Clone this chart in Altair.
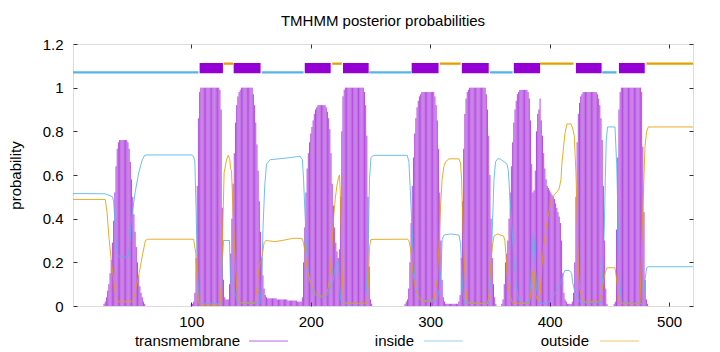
import altair as alt
import pandas as pd

FONT = "Liberation Sans"

# ---------------- data ----------------
series_names = ["transmembrane", "inside", "outside"]
series_colors = ["#9400D3", "#56B4E9", "#E69F00"]
x_ticks = [100, 200, 300, 400, 500]
y_ticks = [0, 0.2, 0.4, 0.6, 0.8, 1.0, 1.2]
seq_length = 520

# transmembrane posterior probability per residue (runs of consecutive residues)
tm_run_starts = [27, 100, 193, 279, 360, 454]
tm_run_values = [
    [0.01, 0.02, 0.04, 0.07, 0.10, 0.15, 0.21, 0.29, 0.39, 0.52, 0.64, 0.72, 0.75,
     0.76, 0.76, 0.76, 0.76, 0.76, 0.76, 0.76, 0.75, 0.72, 0.66, 0.58, 0.50, 0.42,
     0.34, 0.27, 0.20, 0.14, 0.09, 0.06, 0.04, 0.02, 0.01],
    [0.01, 0.01, 0.02, 0.06, 0.22, 0.55, 0.86, 0.98,
     1.0, 1.0, 1.0, 1.0, 1.0, 1.0, 1.0, 1.0, 1.0, 1.0, 1.0, 1.0, 1.0, 1.0, 1.0, 1.0,
     0.99, 0.90, 0.45, 0.12, 0.04, 0.03, 0.03, 0.03, 0.10, 0.24, 0.40, 0.56, 0.70,
     0.84, 0.92, 0.96, 0.98, 0.99,
     1.0, 1.0, 1.0, 1.0, 1.0, 1.0, 1.0, 1.0, 1.0, 1.0,
     0.97, 0.92, 0.84, 0.74, 0.62, 0.48, 0.34, 0.22, 0.14, 0.08, 0.05, 0.04,
     0.035, 0.035, 0.035, 0.035, 0.035, 0.035, 0.035, 0.035,
     0.03, 0.03, 0.03, 0.03, 0.03, 0.03, 0.03, 0.03, 0.03,
     0.025, 0.025, 0.025, 0.025, 0.025, 0.025, 0.025, 0.025,
     0.02, 0.02, 0.02, 0.02],
    [0.04, 0.20, 0.36, 0.52, 0.63, 0.70, 0.75, 0.79, 0.82, 0.85, 0.88, 0.90, 0.91,
     0.92, 0.92, 0.92, 0.92, 0.92, 0.92, 0.92,
     0.91, 0.89, 0.86, 0.81, 0.70, 0.56, 0.46, 0.36, 0.29, 0.25, 0.22, 0.26, 0.50,
     0.80, 0.96, 0.99,
     1.0, 1.0, 1.0, 1.0, 1.0, 1.0, 1.0, 1.0, 1.0, 1.0, 1.0, 1.0, 1.0, 1.0, 1.0, 1.0,
     0.98, 0.92, 0.78, 0.50, 0.18, 0.03, 0.01],
    [0.01, 0.02, 0.03, 0.08, 0.20, 0.38, 0.55, 0.68, 0.79, 0.86, 0.91, 0.94, 0.96,
     0.97, 0.98, 0.98, 0.98, 0.98, 0.98, 0.98, 0.98, 0.98, 0.98, 0.98, 0.98,
     0.96, 0.92, 0.85, 0.72, 0.52, 0.30, 0.12, 0.04, 0.02,
     0.01, 0.01, 0.01, 0.01, 0.01, 0.01, 0.01, 0.01, 0.01, 0.01, 0.01,
     0.02, 0.05, 0.22, 0.48, 0.72, 0.88, 0.95, 0.98, 0.99,
     1.0, 1.0, 1.0, 1.0, 1.0, 1.0, 1.0, 1.0, 1.0, 1.0, 1.0, 1.0, 1.0, 1.0,
     0.97, 0.90, 0.78, 0.60, 0.40, 0.22, 0.10, 0.04, 0.01],
    [0.01, 0.03, 0.10, 0.20, 0.24, 0.30, 0.40, 0.52, 0.64, 0.75, 0.84, 0.90, 0.94,
     0.97, 0.98, 0.99, 0.99, 0.99, 0.99, 0.99, 0.99, 0.99, 0.98, 0.95, 0.85, 0.65,
     0.52, 0.53, 0.62, 0.80, 0.88, 0.90, 0.95, 0.85, 0.78, 0.70, 0.63, 0.58, 0.55,
     0.54, 0.53, 0.52, 0.51, 0.50, 0.49, 0.47, 0.45, 0.43, 0.41, 0.38, 0.30, 0.15,
     0.06, 0.03, 0.02, 0.01, 0.01, 0.01, 0.01, 0.02, 0.06, 0.20, 0.50, 0.75, 0.88,
     0.93, 0.96, 0.97, 0.98, 0.98, 0.98, 0.98, 0.98, 0.98, 0.98, 0.98, 0.98, 0.98,
     0.98, 0.98, 0.97, 0.95, 0.92, 0.86, 0.76, 0.55, 0.30, 0.08, 0.01],
    [0.01, 0.02, 0.35, 0.68, 0.90, 0.98,
     1.0, 1.0, 1.0, 1.0, 1.0, 1.0, 1.0, 1.0, 1.0, 1.0, 1.0, 1.0, 1.0, 1.0, 1.0, 1.0, 1.0,
     0.98, 0.73, 0.43, 0.12, 0.03, 0.01],
]

# inside probability (breakpoints)
inside_pos = [1, 28, 32, 34, 35, 36, 37, 38, 40, 47, 48, 50, 53, 56, 59, 61, 63, 100,
              102, 103, 104, 105, 106, 107, 125, 126, 127, 132, 132.8, 134.5, 136.5, 139,
              157.5, 159, 160, 161.5, 163, 166, 175, 183, 191, 193, 194, 195.4, 196.8,
              198, 199.5, 202, 205, 211, 213.5, 216, 219, 220.5, 221.5, 223.3, 224, 225,
              227, 245.5, 247, 248.4, 249.2, 250.4, 252.6, 280.8, 282.2, 283.6, 285,
              286.4, 287.7, 290.5, 293.3, 303, 305.9, 308.1, 309.2, 310, 311.5, 317, 324,
              325.4, 326.3, 327.4, 328.8, 349, 350.6, 352, 353.4, 354.7, 356.7, 359, 362,
              364.2, 365.3, 366.2, 367.6, 369, 370.4, 371.8, 373.2, 374.6, 377, 382,
              383.8, 385.2, 386.3, 387.1, 388, 389.4, 390.7, 398, 401, 404, 406.7, 409.5,
              411.7, 412.8, 416.4, 418.4, 419.2, 420.6, 422, 423.4, 424.8, 427, 443,
              444.3, 445.7, 446.6, 447.4, 448.5, 454.7, 456.1, 457.5, 458.9, 460.2, 478.4,
              479.8, 481.2, 483, 520]
inside_val = [0.515, 0.514, 0.505, 0.50, 0.48, 0.40, 0.30, 0.24, 0.224, 0.224, 0.26, 0.40,
              0.52, 0.61, 0.67, 0.69, 0.692, 0.692, 0.685, 0.66, 0.45, 0.20, 0.05, 0.01,
              0.01, 0.20, 0.30, 0.30, 0.12, 0.11, 0.06, 0.015, 0.01, 0.12, 0.35, 0.55,
              0.65, 0.67, 0.675, 0.68, 0.686, 0.67, 0.58, 0.40, 0.24, 0.15, 0.11, 0.06,
              0.043, 0.04, 0.046, 0.076, 0.12, 0.18, 0.20, 0.20, 0.12, 0.03, 0.01, 0.01,
              0.12, 0.35, 0.58, 0.68, 0.69, 0.69, 0.66, 0.50, 0.32, 0.18, 0.09, 0.04,
              0.023, 0.02, 0.03, 0.09, 0.18, 0.305, 0.325, 0.33, 0.325, 0.29, 0.18, 0.06,
              0.015, 0.01, 0.12, 0.35, 0.58, 0.66, 0.675, 0.672, 0.66, 0.65, 0.625, 0.55,
              0.43, 0.305, 0.20, 0.11, 0.046, 0.023, 0.015, 0.015, 0.06, 0.24, 0.33, 0.29,
              0.18, 0.06, 0.015, 0.01, 0.03, 0.053, 0.076, 0.11, 0.15, 0.163, 0.163, 0.15,
              0.11, 0.076, 0.06, 0.04, 0.023, 0.015, 0.015, 0.12, 0.35, 0.58, 0.76, 0.82,
              0.82, 0.65, 0.35, 0.09, 0.015, 0.01, 0.12, 0.175, 0.18, 0.18]

# outside probability (breakpoints)
outside_pos = [1, 28, 29.5, 31, 33, 35, 37, 38.5, 51, 52.4, 55.2, 57.4, 59.4, 61.6, 63.6,
               102, 103.8, 104.9, 106, 107, 124, 125.3, 126.7, 127.5, 129.5, 130.9, 132.3,
               132.8, 133.7, 134.5, 135.6, 137, 138.4, 140.7, 153.2, 155.2, 156.8, 158.2,
               159.6, 161, 162.4, 170, 176, 185, 192.6, 194, 195.4, 196.8, 198.1, 200.9,
               203.7, 206.5, 210.7, 213.5, 214.9, 216.3, 217.7, 219.1, 220.5, 221.9, 223.3,
               224.1, 224.7, 225.5, 226.3, 227.5, 247, 248.4, 249.2, 250.4, 280.8, 282.2,
               283.6, 285, 286.4, 287.7, 290.5, 293.3, 303.1, 305.9, 307.3, 308.7, 310,
               311.5, 312.9, 315.7, 324, 325.4, 326.3, 327.1, 328.2, 329.6, 331, 347.8,
               349.2, 350.6, 352, 353.4, 356.2, 361.4, 362.5, 363.4, 364.2, 365.3, 366.7,
               369, 383, 384.3, 385.7, 386.6, 387.1, 388, 389.4, 390.7, 392.1, 393.3,
               394.9, 396.9, 398.3, 399.7, 401.1, 403.9, 406.7, 408.1, 409.5, 410.3, 411.7,
               412.8, 414.5, 417.8, 419.2, 420.6, 422, 422.9, 424, 425.1, 427.6, 430.4,
               440.2, 442.4, 443.5, 445.2, 446.3, 448, 454.7, 456.1, 457.5, 459, 475.6,
               477, 478.4, 479.8, 481.2, 482.6, 520]
outside_val = [0.488, 0.488, 0.43, 0.32, 0.21, 0.12, 0.03, 0.02, 0.02, 0.046, 0.12, 0.18,
               0.24, 0.30, 0.306, 0.306, 0.24, 0.12, 0.02, 0.005, 0.005, 0.12, 0.43, 0.61,
               0.67, 0.69, 0.67, 0.63, 0.62, 0.50, 0.35, 0.18, 0.06, 0.015, 0.015, 0.09,
               0.18, 0.20, 0.24, 0.29, 0.30, 0.295, 0.30, 0.31, 0.31, 0.29, 0.24, 0.18,
               0.14, 0.09, 0.06, 0.046, 0.046, 0.06, 0.09, 0.15, 0.27, 0.40, 0.49, 0.55,
               0.59, 0.60, 0.53, 0.35, 0.15, 0.015, 0.01, 0.12, 0.27, 0.305, 0.306, 0.30,
               0.26, 0.18, 0.12, 0.076, 0.04, 0.02, 0.03, 0.12, 0.27, 0.46, 0.58, 0.64,
               0.66, 0.674, 0.674, 0.655, 0.58, 0.43, 0.24, 0.09, 0.015, 0.01, 0.046, 0.18,
               0.27, 0.32, 0.33, 0.32, 0.30, 0.24, 0.15, 0.09, 0.046, 0.015, 0.01, 0.06,
               0.15, 0.17, 0.12, 0.06, 0.03, 0.023, 0.06, 0.17, 0.27, 0.35, 0.40, 0.44,
               0.48, 0.51, 0.526, 0.54, 0.58, 0.655, 0.73, 0.79, 0.834, 0.834, 0.815, 0.78,
               0.61, 0.43, 0.18, 0.076, 0.03, 0.018, 0.02, 0.03, 0.06, 0.12, 0.15, 0.175,
               0.175, 0.12, 0.03, 0.01, 0.01, 0.27, 0.50, 0.73, 0.80, 0.82, 0.82]

# predicted topology (segments drawn above the curves)
inside_seg_start = [1, 159, 249, 350, 444]
inside_seg_end = [106, 194, 284, 369, 456]
outside_seg_start = [127, 218, 308, 392, 481]
outside_seg_end = [135, 226, 325.5, 420, 520]
tm_seg_start = [107, 135.5, 195, 227, 284.5, 326.5, 370, 422, 458]
tm_seg_end = [126.5, 158, 216.7, 248.5, 307, 349, 392, 443.5, 479.6]

# ---------------- tables ----------------
tm_rows = []
for start, vals in zip(tm_run_starts, tm_run_values):
    for i, v in enumerate(vals):
        tm_rows.append({"pos": start + i, "p": v, "series": "transmembrane"})
df_tm = pd.DataFrame(tm_rows)

df_lines = pd.concat([
    pd.DataFrame({"pos": inside_pos, "p": inside_val, "series": "inside"}),
    pd.DataFrame({"pos": outside_pos, "p": outside_val, "series": "outside"}),
], ignore_index=True)

df_in_seg = pd.DataFrame({"start": inside_seg_start, "end": inside_seg_end})
df_out_seg = pd.DataFrame({"start": outside_seg_start, "end": outside_seg_end})
df_tm_seg = pd.DataFrame({"start": tm_seg_start, "end": tm_seg_end})

# ---------------- scales / axes ----------------
x_scale = alt.Scale(domain=[1, seq_length], nice=False, zero=False)
y_scale = alt.Scale(domain=[0, 1.2], nice=False)
color_scale = alt.Scale(domain=series_names, range=series_colors)

x_axis = alt.Axis(orient="bottom", values=x_ticks, title=None, grid=False, domain=False,
                  ticks=True, tickSize=4, offset=-4, tickColor="#333",
                  labelFont=FONT, labelFontSize=15, labelColor="black", labelPadding=8)
y_axis = alt.Axis(orient="left", values=y_ticks, format="~g", title="probability",
                  grid=False, domain=False, ticks=True, tickSize=4, offset=-4,
                  tickColor="#333", labelFont=FONT, labelFontSize=15, labelColor="black",
                  labelPadding=10, titleFont=FONT, titleFontSize=15,
                  titleFontWeight="normal", titleColor="black",
                  titleX=-62, titleY=131, titleAngle=-90, titleAlign="center",
                  titleBaseline="middle")
x_axis_top = alt.Axis(orient="top", values=x_ticks, title=None, grid=False, domain=False,
                      labels=False, ticks=True, tickSize=4, offset=-4, tickColor="#333")
y_axis_right = alt.Axis(orient="right", values=y_ticks, title=None, grid=False,
                        domain=False, labels=False, ticks=True, tickSize=4, offset=-4,
                        tickColor="#333")

impulses = alt.Chart(df_tm).mark_rule(strokeWidth=1, opacity=0.7).encode(
    x=alt.X("pos:Q", scale=x_scale, axis=x_axis),
    y=alt.Y("p:Q", scale=y_scale, axis=y_axis),
    y2=alt.datum(0),
    color=alt.Color("series:N", scale=color_scale, legend=None),
)

lines = alt.Chart(df_lines).mark_line(strokeWidth=1, opacity=0.85).encode(
    x=alt.X("pos:Q", scale=x_scale, axis=x_axis_top),
    y=alt.Y("p:Q", scale=y_scale, axis=y_axis_right),
    color=alt.Color("series:N", scale=color_scale, legend=None),
    order="pos:Q",
)

inside_bar = alt.Chart(df_in_seg).mark_rule(color="#56B4E9", strokeWidth=2.3).encode(
    x=alt.X("start:Q", scale=x_scale, axis=None), x2="end:Q",
    y=alt.YDatum(1.07, axis=None),
)
outside_bar = alt.Chart(df_out_seg).mark_rule(color="#E69F00", strokeWidth=2.3).encode(
    x=alt.X("start:Q", scale=x_scale, axis=None), x2="end:Q",
    y=alt.YDatum(1.11, axis=None),
)
tm_bar = alt.Chart(df_tm_seg).mark_rect(color="#9400D3").encode(
    x=alt.X("start:Q", scale=x_scale, axis=None), x2="end:Q",
    y=alt.YDatum(1.066, axis=None), y2=alt.datum(1.113),
)

# ---------------- legend (label then sample line, gnuplot style) ----------------
legend_layers = []
legend_text_right = [167, 341, 516]
legend_line_start = [176, 351, 527]
legend_line_len = 39
legend_y = 297
for name, col, tx, lx in zip(series_names, series_colors, legend_text_right,
                             legend_line_start):
    legend_layers.append(
        alt.Chart(pd.DataFrame({"label": [name]})).mark_text(
            align="right", baseline="middle", font=FONT, fontSize=15, color="black"
        ).encode(text="label:N", x=alt.value(tx), y=alt.value(legend_y))
    )
    legend_layers.append(
        alt.Chart(pd.DataFrame({"label": [name]})).mark_rule(
            color=col, strokeWidth=1, opacity=0.6
        ).encode(x=alt.value(lx), x2=alt.value(lx + legend_line_len),
                 y=alt.value(legend_y))
    )

chart = alt.layer(impulses, lines, inside_bar, outside_bar, tm_bar,
                  *legend_layers).resolve_axis(
    x="independent", y="independent"
).properties(
    width=620, height=262,
    title=alt.TitleParams("TMHMM posterior probabilities", font=FONT, fontSize=15,
                          fontWeight="normal", color="black", anchor="middle",
                          frame="group", offset=20, baseline="alphabetic", dy=24),
    autosize=alt.AutoSizeParams(type="none"),
    padding={"left": 73, "top": 44, "right": 27, "bottom": 46},
).configure_view(stroke="#333", strokeWidth=1).configure(background="white")

chart.save("out.html", embed_options={"renderer": "svg", "actions": False})
